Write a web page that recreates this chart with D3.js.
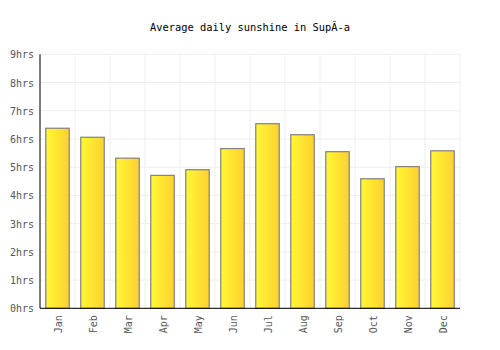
<html>
<head>
<meta charset="UTF-8">
<script src="https://d3js.org/d3.v7.min.js"></script>
<style>
  body { margin: 0; background: #fff; }
  text { font-family: "DejaVu Sans Mono", monospace; }
</style>
</head>
<body>
<svg id="chart" width="500" height="350"></svg>
<script>
// chart data
const months = ["Jan", "Feb", "Mar", "Apr", "May", "Jun", "Jul", "Aug", "Sep", "Oct", "Nov", "Dec"];
const sunHours = [6.38, 6.06, 5.32, 4.71, 4.91, 5.66, 6.54, 6.15, 5.55, 4.59, 5.02, 5.58];
const yTicks = [0, 1, 2, 3, 4, 5, 6, 7, 8, 9];

let svg = d3.select("svg#chart");
let margin = {top: 54.3, right: 40, bottom: 41.7, left: 40};
let width = 500 - margin.left - margin.right;
let height = 350 - margin.top - margin.bottom;

// gradient for the bars
let grad = svg.append("defs").append("linearGradient")
    .attr("id", "barGrad").attr("x1", "0%").attr("x2", "100%").attr("y1", "0%").attr("y2", "0%");
grad.append("stop").attr("offset", "0%").attr("stop-color", "#fff835");
grad.append("stop").attr("offset", "100%").attr("stop-color", "#ffd030");

svg.append("text")
    .attr("x", 250).attr("y", 31)
    .attr("text-anchor", "middle")
    .attr("font-size", 10.4)
    .attr("fill", "#000")
    .text("Average daily sunshine in SupĂ-a");

let g = svg.append("g").attr("transform", `translate(${margin.left},${margin.top})`);

let x = d3.scaleBand().domain(months).range([0, width]).paddingInner(0.33).paddingOuter(0.165);
let y = d3.scaleLinear().domain([0, 9]).range([height, 0]);

// gridlines
let bands = d3.range(months.length + 1).map(i => i * width / months.length);
g.selectAll("line.vgrid").data(bands).enter().append("line")
    .attr("x1", d => d).attr("x2", d => d)
    .attr("y1", 0).attr("y2", height)
    .attr("stroke", "#eeeeee").attr("stroke-width", 1);
g.selectAll("line.hgrid").data(yTicks).enter().append("line")
    .attr("x1", 0).attr("x2", width)
    .attr("y1", d => y(d)).attr("y2", d => y(d))
    .attr("stroke", "#eeeeee").attr("stroke-width", 1);

// bars
g.selectAll("rect.bar").data(sunHours).enter().append("rect")
    .attr("x", (d, i) => x(months[i]))
    .attr("width", x.bandwidth())
    .attr("y", d => y(d))
    .attr("height", d => height - y(d))
    .attr("fill", "url(#barGrad)")
    .attr("stroke", "#808080")
    .attr("stroke-width", 1.2);

// y axis labels
g.selectAll("text.ylab").data(yTicks).enter().append("text")
    .attr("x", -6).attr("y", d => y(d) + 4)
    .attr("text-anchor", "end")
    .attr("font-size", 10)
    .attr("fill", "#555")
    .text(d => d + "hrs");

// x axis labels
g.selectAll("text.xlab").data(months).enter().append("text")
    .attr("transform", d => `translate(${x(d) + x.bandwidth() / 2 + 4},${height + 7}) rotate(-90)`)
    .attr("text-anchor", "end")
    .attr("font-size", 10)
    .attr("fill", "#555")
    .text(d => d);

// axis lines
g.append("line").attr("x1", 0).attr("x2", 0).attr("y1", 0).attr("y2", height)
    .attr("stroke", "#000").attr("stroke-width", 1);
g.append("line").attr("x1", 0).attr("x2", width).attr("y1", height).attr("y2", height)
    .attr("stroke", "#000").attr("stroke-width", 1);
</script>
</body>
</html>
